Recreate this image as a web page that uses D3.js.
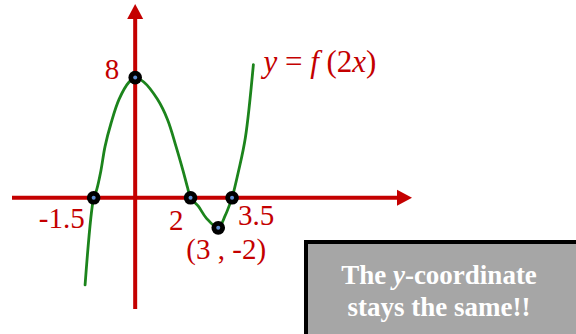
<!DOCTYPE html>
<html>
<head>
<meta charset="utf-8">
<script src="https://cdn.jsdelivr.net/npm/d3@7"></script>
<style>
  body { margin: 0; background: #fff; }
  svg { display: block; }
</style>
</head>
<body>
<div id="wrapper"></div>
<script>
// key points of y = f(2x)
const keyX = [-1.5, 0, 2, 3, 3.5]
const keyY = [0, 8, 0, -2, 0]
const keyLabels = ["-1.5", "8", "2", "(3 , -2)", "3.5"]

// curve
const curveX = [-1.81, -1.5, -1.39, -1.24, -1.09, -0.87, -0.58, -0.22, 0, 0.31, 0.8, 1.17, 1.48, 1.73, 1.91, 2, 2.28, 2.57, 3, 3.25, 3.42, 3.5, 3.73, 3.98, 4.27]
const curveY = [-5.8, 0, 0.55, 1.79, 3.41, 4.98, 6.57, 7.71, 8, 7.71, 6.57, 5.2, 3.39, 1.79, 0.55, 0, -0.56, -1.35, -2, -1.19, -0.41, 0, 1.75, 4.0, 8.87]

const curveName = "y = f(2x)"
const noteLines = ["The y-coordinate", "stays the same!!"]

const axisRed = "#c40000"
const serif = "'Liberation Serif', 'Times New Roman', serif"

const dimensions = { width: 576, height: 334 }

const svg = d3.select("#wrapper")
  .append("svg")
  .attr("width", dimensions.width)
  .attr("height", dimensions.height)

// scales
const xScale = d3.scaleLinear()
  .domain([-4.45, 10])
  .range([12, 412])
const yScale = d3.scaleLinear()
  .domain([-7.4, 12.9])
  .range([309, 4])

const x0 = xScale(0)
const y0 = yScale(0)
const arrowLen = 15
const arrowHalf = 8

// axes
const axes = svg.append("g")
axes.append("line")
  .attr("x1", xScale.range()[0])
  .attr("x2", xScale.range()[1] - arrowLen + 1)
  .attr("y1", y0).attr("y2", y0)
  .attr("stroke", axisRed)
  .attr("stroke-width", 4)
axes.append("path")
  .attr("d", `M${xScale.range()[1]},${y0} L${xScale.range()[1] - arrowLen},${y0 - arrowHalf} L${xScale.range()[1] - arrowLen},${y0 + arrowHalf} Z`)
  .attr("fill", axisRed)
axes.append("line")
  .attr("x1", x0).attr("x2", x0)
  .attr("y1", yScale.range()[0])
  .attr("y2", yScale.range()[1] + arrowLen - 1)
  .attr("stroke", axisRed)
  .attr("stroke-width", 4)
axes.append("path")
  .attr("d", `M${x0},${yScale.range()[1]} L${x0 - arrowHalf},${yScale.range()[1] + arrowLen} L${x0 + arrowHalf},${yScale.range()[1] + arrowLen} Z`)
  .attr("fill", axisRed)

// curve
const curveData = curveX.map((x, i) => ({ x: x, y: curveY[i] }))
const lineGenerator = d3.line()
  .x(d => xScale(d.x))
  .y(d => yScale(d.y))
  .curve(d3.curveCatmullRom.alpha(0.5))
svg.append("path")
  .attr("d", lineGenerator(curveData))
  .attr("fill", "none")
  .attr("stroke", "#1c841c")
  .attr("stroke-width", 2.8)
  .attr("stroke-linecap", "round")

// dots
const dotsGroup = svg.append("g")
keyX.forEach((x, i) => {
  dotsGroup.append("circle")
    .attr("cx", xScale(x))
    .attr("cy", yScale(keyY[i]))
    .attr("r", 6.8)
    .attr("fill", "#000")
  dotsGroup.append("circle")
    .attr("cx", xScale(x))
    .attr("cy", yScale(keyY[i]))
    .attr("r", 2)
    .attr("fill", "#5f8fd2")
})

// point labels
const labelPlace = [
  { dx: -9, dy: 30, anchor: "end" },
  { dx: -16, dy: 1, anchor: "end" },
  { dx: -7, dy: 32, anchor: "end" },
  { dx: 8, dy: 31, anchor: "middle" },
  { dx: 6, dy: 27, anchor: "start" },
]
const labelsGroup = svg.append("g")
  .attr("fill", axisRed)
  .style("font-family", serif)
  .style("font-size", "29px")
keyLabels.forEach((t, i) => {
  labelsGroup.append("text")
    .attr("x", xScale(keyX[i]) + labelPlace[i].dx)
    .attr("y", yScale(keyY[i]) + labelPlace[i].dy)
    .attr("text-anchor", labelPlace[i].anchor)
    .text(t)
})

// curve name
const last = curveData[curveData.length - 1]
const nameText = labelsGroup.append("text")
  .attr("x", xScale(last.x) + 10)
  .attr("y", yScale(last.y) + 7)
  .attr("xml:space", "preserve")
  .style("font-size", "31px")
nameText.append("tspan").style("font-style", "italic").text("y")
nameText.append("tspan").text(" = ")
nameText.append("tspan").style("font-style", "italic").text("f")
nameText.append("tspan").text(" (2")
nameText.append("tspan").style("font-style", "italic").text("x")
nameText.append("tspan").text(")")

// note box
const note = svg.append("g")
note.append("rect")
  .attr("x", 306).attr("y", 242)
  .attr("width", 290).attr("height", 110)
  .attr("fill", "#a6a6a6")
  .attr("stroke", "#000")
  .attr("stroke-width", 4)
const noteText = note.append("g")
  .attr("fill", "#fff")
  .attr("text-anchor", "middle")
  .style("font-family", serif)
  .style("font-weight", "bold")
  .style("font-size", "27px")
const line1 = noteText.append("text")
  .attr("x", 439).attr("y", 284)
line1.append("tspan").text("The ")
line1.append("tspan").style("font-style", "italic").text("y")
line1.append("tspan").text("-coordinate")
noteText.append("text")
  .attr("x", 439).attr("y", 316)
  .text(noteLines[1])
</script>
</body>
</html>
